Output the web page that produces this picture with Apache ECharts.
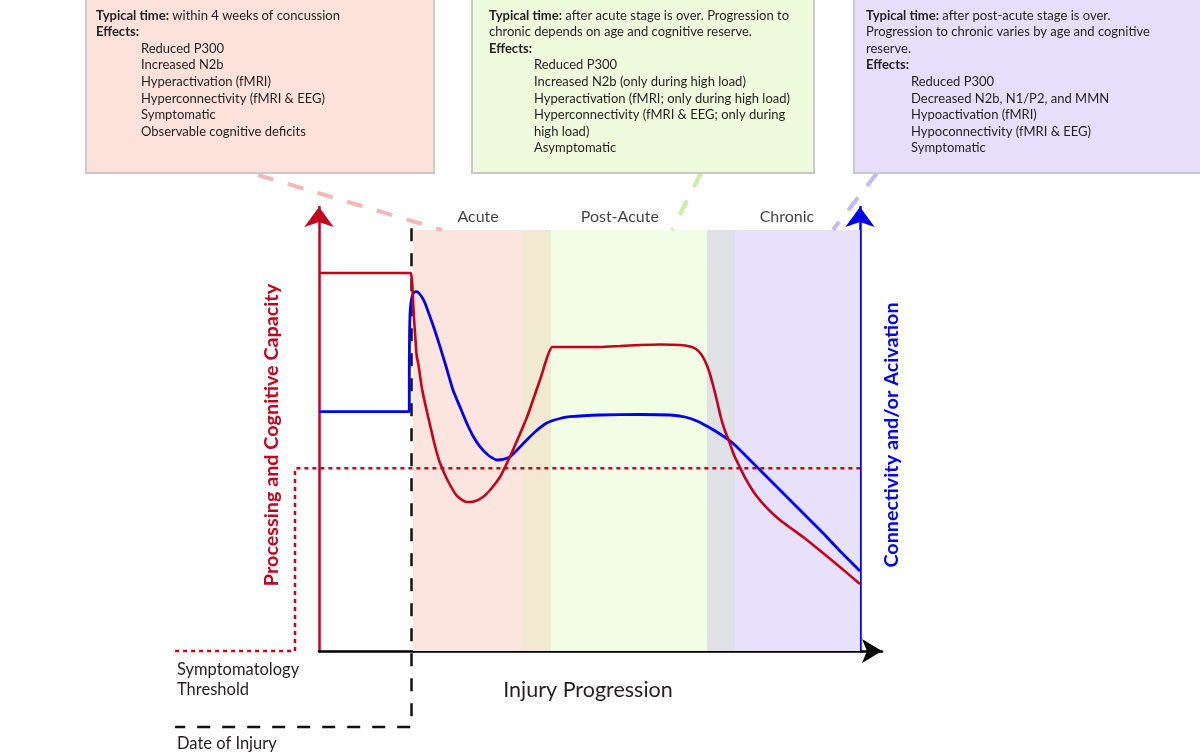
<!DOCTYPE html>
<html>
<head>
<meta charset="utf-8">
<script src="https://cdn.jsdelivr.net/npm/echarts@6/dist/echarts.min.js"></script>
<style>html,body{margin:0;padding:0;background:#fff}#c{width:1200px;height:756px}</style>
</head>
<body>
<div id="c"></div>
<script>
// ---- Data (x: injury progression, 0..100 across the plot; y: level, 0..100 = top of stage bands) ----
const processingCapacity = [
  [0, 89.79], [16.91, 89.79], [17.10, 89.07], [17.25, 86.94], [17.38, 83.37], [17.56, 79.10],
  [17.84, 73.87], [18.06, 70.07], [18.39, 67.93], [18.98, 62.71], [19.59, 58.91], [20.52, 53.68],
  [21.44, 48.69], [22.37, 44.66], [23.84, 40.38], [25.51, 36.82], [27.30, 35.39], [28.65, 35.51],
  [30.31, 36.58], [31.79, 38.48], [33.46, 41.33], [34.66, 44.42], [35.86, 47.74], [38.45, 55.58],
  [40.85, 64.37], [43.16, 72.21], [44.54, 72.21], [51.94, 72.21], [55.64, 72.45], [59.33, 72.68],
  [63.03, 72.80], [66.73, 72.68], [68.58, 72.33], [69.69, 71.73], [70.61, 70.55], [71.35, 68.88],
  [72.09, 66.51], [72.83, 63.18], [73.57, 59.38], [74.31, 55.34], [75.05, 52.26], [75.79, 49.88],
  [76.71, 46.56], [77.82, 43.59], [78.93, 40.74], [80.04, 38.36], [80.96, 36.70], [82.26, 34.68],
  [83.73, 32.78], [85.21, 31.12], [87.06, 29.34], [89.83, 26.72], [93.16, 23.28], [96.30, 19.95],
  [100, 15.91]
];
const connectivityActivation = [
  [0, 56.84], [16.69, 56.84], [16.69, 64.37], [16.71, 71.50], [16.75, 76.25], [16.82, 79.81],
  [16.95, 82.19], [17.14, 83.85], [17.38, 84.80], [17.65, 85.22], [17.93, 85.34], [18.30, 85.20],
  [18.98, 84.16], [19.59, 82.66], [20.52, 79.41], [21.44, 76.01], [22.37, 72.28], [23.57, 67.22],
  [24.77, 61.99], [26.06, 57.96], [27.30, 54.16], [28.47, 51.07], [29.76, 48.53], [31.24, 46.56],
  [32.85, 45.37], [34.01, 45.49], [35.30, 46.15], [36.78, 47.98], [38.39, 50.12], [40.11, 52.26],
  [42.09, 54.16], [44.18, 55.11], [46.40, 55.65], [51.94, 56.06], [59.33, 56.18], [64.88, 56.06],
  [67.65, 55.58], [70.06, 54.51], [72.64, 52.73], [74.12, 51.54], [75.79, 50.12], [77.26, 48.46],
  [78.74, 46.56], [81.15, 43.47], [84.29, 39.43], [87.06, 35.87], [90.02, 32.07], [93.16, 28.03],
  [96.30, 23.75], [100, 19.00]
];
// symptomatology threshold (legend stub on the left, step, then across the plot)
const thresholdPath = [[-26.6, 0], [-4.44, 0], [-4.44, 43.40], [100, 43.40]];
// date of injury (vertical marker, then legend stub at the bottom left)
const injuryPath = [[17.1, 100.4], [17.1, -18.05], [-26.6, -18.05]];

const stageNames = ['Acute', 'Post-Acute', 'Chronic'];
const stageLabelX = [29.4, 55.6, 86.5];
const bandFrom = [17.38, 37.52, 42.88, 71.72, 76.89];
const bandTo = [37.52, 42.88, 71.72, 76.89, 100];
const bandColors = ['#fde5df', '#f1ead0', '#f1fde5', '#dfe1e7', '#e7e1fb'];

const boxHeaders = [
  ['{b|Typical time:}{n| within 4 weeks of concussion}', '{b|Effects:}'],
  ['{b|Typical time:}{n| after acute stage is over. Progression to}', '{n|chronic depends on age and cognitive reserve.}', '{b|Effects:}'],
  ['{b|Typical time:}{n| after post-acute stage is over.}', '{n|Progression to chronic varies by age and cognitive}', '{n|reserve.}', '{b|Effects:}']
];
const boxItems = [
  ['Reduced P300', 'Increased N2b', 'Hyperactivation (fMRI)', 'Hyperconnectivity (fMRI & EEG)', 'Symptomatic', 'Observable cognitive deficits'],
  ['Reduced P300', 'Increased N2b (only during high load)', 'Hyperactivation (fMRI; only during high load)', 'Hyperconnectivity (fMRI & EEG; only during', 'high load)', 'Asymptomatic'],
  ['Reduced P300', 'Decreased N2b, N1/P2, and MMN', 'Hypoactivation (fMRI)', 'Hypoconnectivity (fMRI & EEG)', 'Symptomatic']
];

// ---- Styles ----
const RED = '#c4001c';
const BLUE = '#0000ee';
const TXT = '#231f20';
const FONT = 'Lato, "Open Sans", sans-serif';

const boxLayout = [
  {x: 86, w: 348, fill: '#fde1db', hx: 96, ix: 141},
  {x: 472, w: 342, fill: '#eefcdd', hx: 489, ix: 534},
  {x: 854, w: 360, fill: '#e6defb', hx: 866, ix: 911}
];
const connectors = [
  {x1: 258, y1: 175, x2: 442, y2: 230, color: '#f7b7b9'},
  {x1: 701, y1: 173, x2: 672, y2: 230, color: '#c9f0a2'},
  {x1: 877, y1: 173, x2: 833, y2: 230, color: '#c2b9f2'}
];
const LH = 16.6;

const chart = echarts.init(document.getElementById('c'));
chart.setOption({
  animation: false,
  backgroundColor: '#fff',
  grid: {left: 319, right: 318, top: 207, bottom: 105, containLabel: false, outerBoundsMode: 'none'},
  xAxis: {
    type: 'value', min: 0, max: 104.07,
    axisLine: {show: true, onZero: false, symbol: ['none', 'arrow'], symbolSize: [18, 20], lineStyle: {color: '#000', width: 2.5}},
    axisTick: {show: false}, axisLabel: {show: false}, splitLine: {show: false}
  },
  yAxis: [
    {
      type: 'value', min: 0, max: 105.46, position: 'left',
      axisLine: {show: true, onZero: false, symbol: ['none', 'arrow'], symbolSize: [22, 20], lineStyle: {color: RED, width: 2.5}},
      axisTick: {show: false}, axisLabel: {show: false}, splitLine: {show: false},
      name: 'Processing and Cognitive Capacity', nameLocation: 'middle', nameGap: 37, nameRotate: 90,
      nameTextStyle: {color: RED, fontWeight: 'bold', fontSize: 19.8, fontFamily: FONT, padding: [0, 12, 0, 0]}
    },
    {
      type: 'value', min: 0, max: 105.46, position: 'right', offset: -22,
      axisLine: {show: true, onZero: false, symbol: ['none', 'arrow'], symbolSize: [22, 20], lineStyle: {color: BLUE, width: 2.5}},
      axisTick: {show: false}, axisLabel: {show: false}, splitLine: {show: false},
      name: 'Connectivity and/or Acivation', nameLocation: 'middle', nameGap: 22, nameRotate: 90,
      nameTextStyle: {color: BLUE, fontWeight: 'bold', fontSize: 19.8, fontFamily: FONT, padding: [0, 12, 0, 0]}
    }
  ],
  series: [
    {
      type: 'line', data: [[0, 0]], symbol: 'none', silent: true, z: 1, lineStyle: {opacity: 0},
      markArea: {silent: true, data: bandFrom.map((f, i) => [
        {xAxis: f, yAxis: 0, itemStyle: {color: bandColors[i], opacity: 1}},
        {xAxis: bandTo[i], yAxis: 100}
      ])}
    },
    {
      type: 'line', data: connectivityActivation, symbol: 'none', smooth: 0.15, z: 4,
      lineStyle: {color: BLUE, width: 2.8}
    },
    {
      type: 'line', data: processingCapacity, symbol: 'none', smooth: 0.2, z: 5,
      lineStyle: {color: RED, width: 2.6}
    },
    {
      type: 'scatter', data: stageNames.map((n, i) => [stageLabelX[i], 100, n]), symbolSize: 0, clip: false, silent: true,
      label: {show: true, position: 'top', distance: 5, formatter: p => p.data[2], color: '#111', fontSize: 16, fontFamily: FONT}
    }
  ]
});

// Graphic overlay: reference lines (positioned through the chart's own scales), boxes and free text
const toPx = p => chart.convertToPixel({xAxisIndex: 0, yAxisIndex: 0}, p);
const graphics = [];
graphics.push({type: 'polyline', z: 3, silent: true, shape: {points: injuryPath.map(toPx)},
  style: {stroke: '#111', lineWidth: 2.5, lineDash: [13, 12], fill: null}});
graphics.push({type: 'polyline', z: 3, silent: true, shape: {points: thresholdPath.map(toPx)},
  style: {stroke: RED, lineWidth: 2.5, lineDash: [4, 4], fill: null}});
boxLayout.forEach((b, i) => {
  graphics.push({type: 'rect', shape: {x: b.x, y: -2, width: b.w, height: 175},
    style: {fill: b.fill, stroke: '#cacaca', lineWidth: 2}, z: 10});
  graphics.push({type: 'text', x: b.hx, y: 15.5 - LH / 2, z: 11,
    style: {text: boxHeaders[i].join('\n'), fill: TXT, font: '13px ' + FONT, lineHeight: LH,
      rich: {b: {fontWeight: 'bold', fontSize: 13, fontFamily: FONT, lineHeight: LH, fill: TXT},
             n: {fontSize: 13, fontFamily: FONT, lineHeight: LH, fill: TXT}}}});
  graphics.push({type: 'text', x: b.ix, y: 15.5 - LH / 2 + boxHeaders[i].length * LH, z: 11,
    style: {text: boxItems[i].join('\n'), fill: TXT, font: '13px ' + FONT, lineHeight: LH}});
});
connectors.forEach(c => {
  graphics.push({type: 'line', shape: {x1: c.x1, y1: c.y1, x2: c.x2, y2: c.y2}, z: 9,
    style: {stroke: c.color, lineWidth: 4, lineDash: [16, 15]}});
});
graphics.push({type: 'text', x: 177, y: 660, style: {text: 'Symptomatology\nThreshold', font: '16.5px ' + FONT, fill: TXT, lineHeight: 20}});
graphics.push({type: 'text', x: 177, y: 735, style: {text: 'Date of Injury', font: '16.5px ' + FONT, fill: TXT}});
graphics.push({type: 'text', x: 588, y: 690, style: {text: 'Injury Progression', font: '21.5px ' + FONT, fill: TXT, align: 'center', verticalAlign: 'middle'}});
chart.setOption({graphic: graphics});
</script>
</body>
</html>
